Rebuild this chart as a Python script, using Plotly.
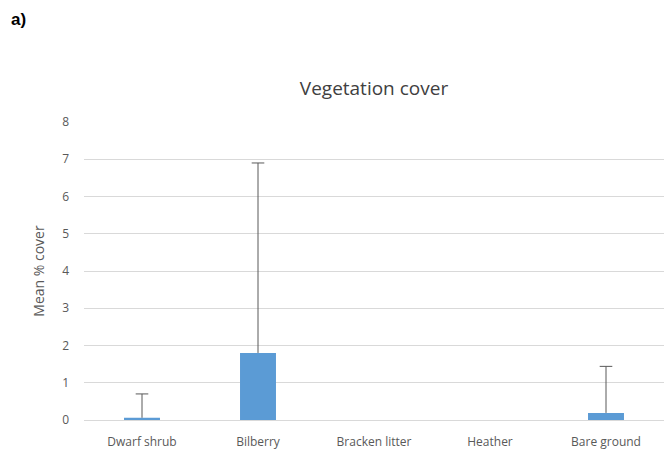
import plotly.graph_objects as go

categories = ["Dwarf shrub", "Bilberry", "Bracken litter", "Heather", "Bare ground"]
mean_cover = [0.06, 1.8, 0, 0, 0.19]
error_plus = [0.64, 5.1, 0, 0, 1.25]
y_ticks = [0, 1, 2, 3, 4, 5, 6, 7, 8]

bar_color = "#5b9bd5"
err_color = "#595959"
text_color = "#595959"
font_family = "Open Sans, Noto Sans, sans-serif"

fig = go.Figure()
fig.add_trace(go.Bar(
    x=categories,
    y=[m if m > 0 else None for m in mean_cover],
    marker=dict(color=bar_color, line=dict(width=0)),
    width=0.31,
))

# Upper error whiskers: stem from bar top to mean + error, with a cap at the top
stem_x, stem_y, cap_x, cap_y = [], [], [], []
for c, m, e in zip(categories, mean_cover, error_plus):
    if e > 0:
        stem_x += [c, c, None]
        stem_y += [m, m + e, None]
        cap_x.append(c)
        cap_y.append(m + e)

fig.add_trace(go.Scatter(
    x=stem_x, y=stem_y, mode="lines",
    line=dict(color=err_color, width=1),
    hoverinfo="skip",
))
fig.add_trace(go.Scatter(
    x=cap_x, y=cap_y, mode="markers",
    marker=dict(symbol="line-ew-open", size=9, color=err_color,
                line=dict(color=err_color, width=1)),
    hoverinfo="skip",
))

fig.update_layout(
    width=667,
    height=459,
    margin=dict(l=84, r=3, t=122, b=39),
    paper_bgcolor="white",
    plot_bgcolor="white",
    showlegend=False,
    font=dict(family=font_family, color=text_color, size=12),
    title=dict(
        text="Vegetation cover",
        x=(84 + 664) / 2 / 667,
        xanchor="center",
        y=1 - 88 / 459,
        yanchor="middle",
        font=dict(size=19, color="#404040", family=font_family),
    ),
    xaxis=dict(
        showgrid=False,
        showline=False,
        ticks="",
        ticklabelstandoff=13,
        tickfont=dict(size=12, color=text_color),
    ),
    yaxis=dict(
        range=[0, 8],
        tickvals=y_ticks,
        showgrid=True,
        gridcolor="#d9d9d9",
        gridwidth=1,
        zeroline=True,
        zerolinecolor="#d9d9d9",
        zerolinewidth=1,
        showline=False,
        ticks="",
        ticklabelstandoff=14,
        tickfont=dict(size=12, color=text_color),
        title=dict(text="Mean % cover", font=dict(size=14, color=text_color), standoff=14),
    ),
)

fig.add_annotation(
    text="<b>a)</b>",
    xref="paper", yref="paper",
    x=-84 / 580 + 9 / 580, y=1 + (122 - 20) / 298,
    xanchor="left", yanchor="middle",
    showarrow=False,
    font=dict(family="Liberation Sans, Arial, sans-serif", size=17, color="black"),
)

fig.write_html("out.html")
